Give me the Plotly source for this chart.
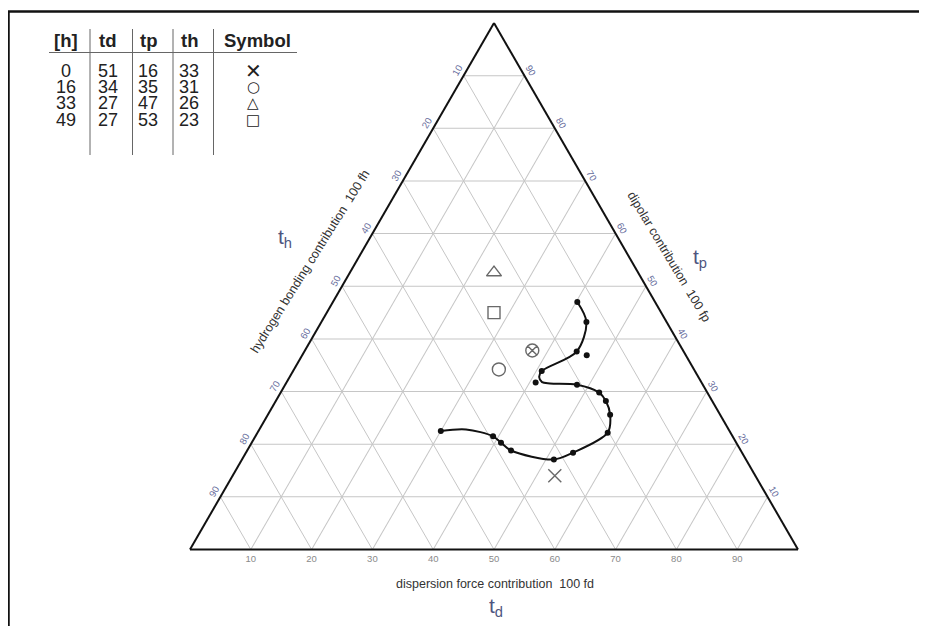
import plotly.graph_objects as go

# The page body has an 8px margin, so the figure is sized to the visible area.
OFF = 8
W, H = 927 - OFF, 626 - OFF

# ---- table printed in the chart ----
table_header = ["[h]", "td", "tp", "th", "Symbol"]
table_hours = [0, 16, 33, 49]
table_td = [51, 34, 27, 27]
table_tp = [16, 35, 47, 53]
table_th = [33, 31, 26, 23]
table_symbols = ["✕", "○", "△", "□"]

# ---- open symbols as placed in the diagram ----
sym_td = [53.0, 33.7, 23.7, 27.5, 37.4]
sym_tp = [14.0, 34.2, 52.6, 45.0, 37.8]
sym_th = [33.0, 32.1, 23.7, 27.5, 24.8]
sym_kind = ["x-thin-open", "circle-open", "triangle-up-open", "square-open", "circle-x-open"]
sym_size = [13, 13, 13, 12, 13]

# ---- measured points (small filled dots) ----
dot_td = [40.2, 43.6, 44.8, 46.8, 40.9, 41.0, 48.0, 52.4, 54.3, 56.3, 57.6, 53.8, 51.3, 43.4, 41.0, 39.1, 30.0]
dot_tp = [47.0, 43.2, 37.6, 36.9, 33.9, 31.7, 31.3, 29.8, 28.2, 25.6, 22.2, 18.4, 17.1, 18.8, 20.3, 21.5, 22.5]
dot_th = [12.8, 13.2, 17.6, 16.3, 25.2, 27.3, 20.7, 17.8, 17.5, 18.1, 20.2, 27.8, 31.6, 37.8, 38.7, 39.4, 47.5]

# ---- fitted path (smooth curve) ----
curve_td = [40.2, 43.6, 44.8, 40.9, 41.05, 42.0, 43.45, 48.0, 52.4, 54.3, 56.3, 57.6, 53.8, 51.3, 43.4, 41.0, 39.1, 34.0, 30.0]
curve_tp = [47.0, 43.2, 37.6, 33.9, 32.76, 31.8, 31.53, 31.3, 29.8, 28.2, 25.6, 22.2, 18.4, 17.1, 18.8, 20.3, 21.5, 22.8, 22.5]
curve_th = [12.8, 13.2, 17.6, 25.2, 26.19, 26.2, 25.02, 20.7, 17.8, 17.5, 18.1, 20.2, 27.8, 31.6, 37.8, 38.7, 39.4, 43.2, 47.5]

ticks = [10, 20, 30, 40, 50, 60, 70, 80, 90]


def px(x):
    return (x - OFF) / W


def py(y):
    return 1 - (y - OFF) / H


fig = go.Figure()

fig.add_trace(go.Scatterternary(
    a=curve_tp, b=curve_th, c=curve_td, mode="lines",
    line=dict(color="#111111", width=2, shape="spline", smoothing=0.9),
    hoverinfo="skip", showlegend=False))

fig.add_trace(go.Scatterternary(
    a=dot_tp, b=dot_th, c=dot_td, mode="markers",
    marker=dict(color="#111111", size=6, line=dict(width=0)),
    showlegend=False))

fig.add_trace(go.Scatterternary(
    a=sym_tp, b=sym_th, c=sym_td, mode="markers",
    marker=dict(symbol=sym_kind, size=sym_size, color="#2a2a2a",
                line=dict(color="#2a2a2a", width=1.4)),
    showlegend=False))

blue = "#666c9c"
grey = "#8a8a8a"
axis_common = dict(tickmode="array", tickvals=ticks, showgrid=True,
                   gridcolor="#c6c6c6", gridwidth=1, showline=True,
                   linecolor="#111111", linewidth=2, ticks="", title=dict(text=""))

yc = py(286.25)
fig.update_layout(
    width=W, height=H,
    margin=dict(l=0, r=0, t=0, b=0),
    paper_bgcolor="white",
    showlegend=False,
    ternary=dict(
        sum=100,
        bgcolor="white",
        domain=dict(x=[px(190), px(798)], y=[yc - 0.45, yc + 0.45]),
        aaxis=dict(axis_common, ticktext=[str(100 - v) for v in ticks], tickangle=-60,
                   tickfont=dict(size=9.5, color=blue, family="Liberation Sans")),
        baxis=dict(axis_common, ticktext=[str(100 - v) for v in ticks], tickangle=0,
                   tickfont=dict(size=9.5, color=grey, family="Liberation Sans")),
        caxis=dict(axis_common, ticktext=[str(100 - v) for v in ticks], tickangle=60,
                   tickfont=dict(size=9.5, color=blue, family="Liberation Sans")),
    ),
)

anns = []


def ann(text, x, y, size, color="#222222", angle=0, family="Liberation Sans"):
    anns.append(dict(text=text, x=px(x), y=py(y), xref="paper", yref="paper",
                     showarrow=False, xanchor="center", yanchor="middle", textangle=angle,
                     font=dict(size=size, color=color, family=family)))


# axis titles
ann("dispersion force contribution  100 fd", 495, 584, 12.5, "#333333")
ann("t<sub>d</sub>", 496, 607, 21, "#4e5580")
ann("hydrogen bonding contribution  100 fh", 310, 262, 12.7, "#333333", angle=-58)
ann("t<sub>h</sub>", 285, 238, 21, "#4e5580")
ann("dipolar contribution  100 fp", 669, 257, 12.7, "#333333", angle=59)
ann("t<sub>p</sub>", 700, 258, 21, "#4e5580")

# table
col_x = [66, 107.5, 148, 189, 257]
for j, head in enumerate(table_header):
    ann("<b>%s</b>" % head, col_x[j], 40, 18.5)
row_y = [70.7, 87.3, 103.5, 119.5]
sym_font = [20, 15, 15, 15]
for i in range(len(table_hours)):
    ann(str(table_hours[i]), col_x[0], row_y[i], 18)
    ann(str(table_td[i]), col_x[1], row_y[i], 18)
    ann(str(table_tp[i]), col_x[2], row_y[i], 18)
    ann(str(table_th[i]), col_x[3], row_y[i], 18)
    ann(table_symbols[i], col_x[4] - 4, row_y[i], sym_font[i], family="DejaVu Sans")

shapes = []
# table rules
shapes.append(dict(type="line", xref="paper", yref="paper", x0=px(49), x1=px(297),
                   y0=py(52.5), y1=py(52.5), line=dict(color="#666666", width=1)))
for vx in [90, 132.5, 173, 213.5]:
    shapes.append(dict(type="line", xref="paper", yref="paper", x0=px(vx), x1=px(vx),
                       y0=py(29), y1=py(155), line=dict(color="#666666", width=1)))
# picture frame
shapes.append(dict(type="line", xref="paper", yref="paper", x0=px(7), x1=1,
                   y0=py(11.5), y1=py(11.5), line=dict(color="#111111", width=2.5)))
shapes.append(dict(type="line", xref="paper", yref="paper", x0=px(8.5), x1=px(8.5),
                   y0=py(11.5), y1=0, line=dict(color="#111111", width=2.5)))

fig.update_layout(annotations=anns, shapes=shapes)

fig.write_html("out.html")
